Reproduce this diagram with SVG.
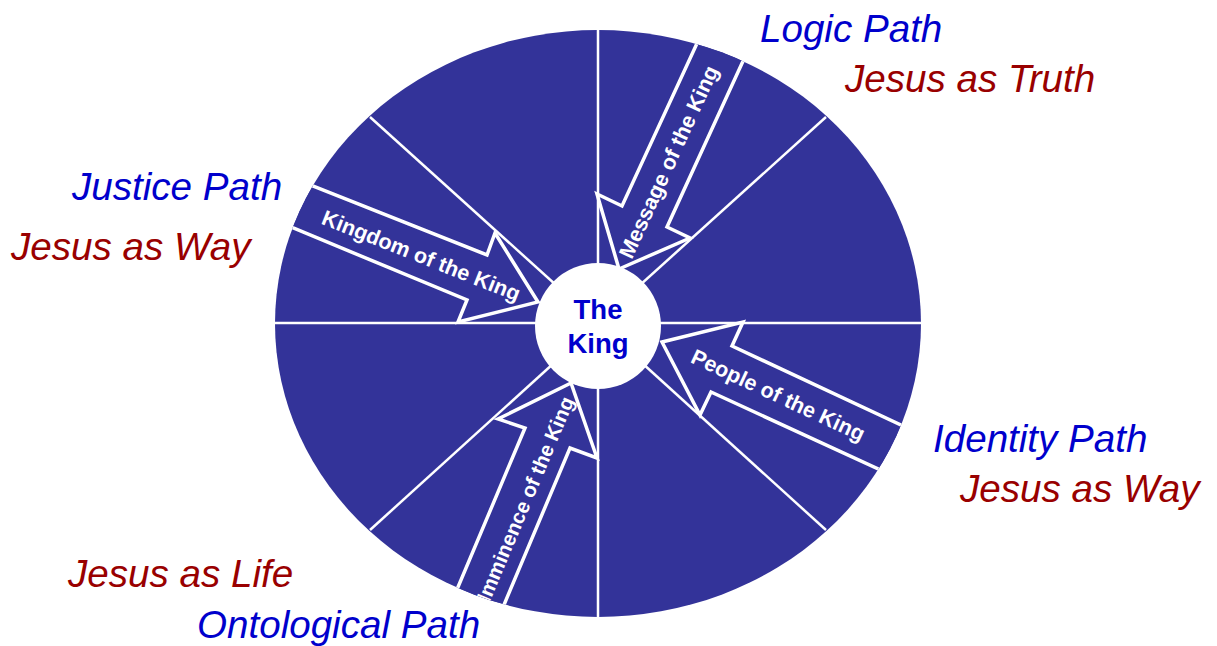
<svg xmlns="http://www.w3.org/2000/svg" width="1217" height="646" viewBox="0 0 1217 646">
<style>
.disc{fill:#333399}
.spoke{stroke:#ffffff;stroke-width:2.5;fill:none}
.arrow{fill:#333399;stroke:#ffffff;stroke-width:3.5;stroke-linejoin:miter}
.alabel{font-family:"Liberation Sans",Arial,sans-serif;font-weight:bold;font-size:21.5px;fill:#ffffff;text-anchor:middle;dominant-baseline:central}
.path{font-family:"Liberation Sans",Arial,sans-serif;font-style:italic;font-size:38.6px;fill:#0000cc}
.jesus{font-family:"Liberation Sans",Arial,sans-serif;font-style:italic;font-size:38.6px;fill:#990000}
.king{font-family:"Liberation Sans",Arial,sans-serif;font-weight:bold;font-size:27.5px;fill:#0000cc;text-anchor:middle}
</style>
<defs>
<clipPath id="discClip"><ellipse cx="598" cy="323.5" rx="323" ry="293.5"/></clipPath>
</defs>
<rect width="1217" height="646" fill="#ffffff"/>
<g id="disc">
<ellipse class="disc" cx="598" cy="323.5" rx="323" ry="293.5"/>
</g>
<g id="connectors" clip-path="url(#discClip)">
<line class="spoke" x1="598" y1="0" x2="598" y2="646"/>
<line class="spoke" x1="250" y1="323" x2="950" y2="323"/>
<line class="spoke" x1="598" y1="323" x2="370" y2="117"/>
<line class="spoke" x1="598" y1="323" x2="826" y2="117"/>
<line class="spoke" x1="598" y1="323" x2="370" y2="530"/>
<line class="spoke" x1="598" y1="323" x2="826" y2="530"/>
</g>
<g id="arrow-message" clip-path="url(#discClip)">
<polygon class="arrow" points="619,269 690,238 667,227 771,0 717,0 622,206 597,194"/>
<text class="alabel" transform="translate(669,162) rotate(-65.3)">Message of the King</text>
</g>
<g id="arrow-kingdom" clip-path="url(#discClip)">
<polygon class="arrow" points="538,302 495,233 487,255 250,161 250,210 467,300 458,322"/>
<text class="alabel" transform="translate(421,256) rotate(21.7)">Kingdom of the King</text>
</g>
<g id="arrow-people" clip-path="url(#discClip)">
<polygon class="arrow" points="662,342 743,322 732,346 950,448 950,502 711,392 700,415"/>
<text class="alabel" transform="translate(778,395.5) rotate(25)">People of the King</text>
</g>
<g id="arrow-imminence" clip-path="url(#discClip)">
<polygon class="arrow" points="571,383 498,419 525,428 431.5,650 485,650 570,448 597,458"/>
<text class="alabel" style="font-size:20.5px" transform="translate(525,499) rotate(-67.2)">Imminence of the King</text>
</g>
<g id="center">
<circle cx="598" cy="326" r="63" fill="#ffffff"/>
<text class="king" x="598" y="319">The</text>
<text class="king" x="598" y="353">King</text>
</g>
<g id="label-logic">
<text class="path" x="760" y="42">Logic Path</text>
<text class="jesus" x="845" y="92">Jesus as Truth</text>
</g>
<g id="label-justice">
<text class="path" x="72" y="200">Justice Path</text>
<text class="jesus" x="11" y="260">Jesus as Way</text>
</g>
<g id="label-identity">
<text class="path" x="933" y="452">Identity Path</text>
<text class="jesus" x="960" y="502">Jesus as Way</text>
</g>
<g id="label-ontological">
<text class="jesus" x="68" y="587">Jesus as Life</text>
<text class="path" x="197" y="638">Ontological Path</text>
</g>
</svg>
